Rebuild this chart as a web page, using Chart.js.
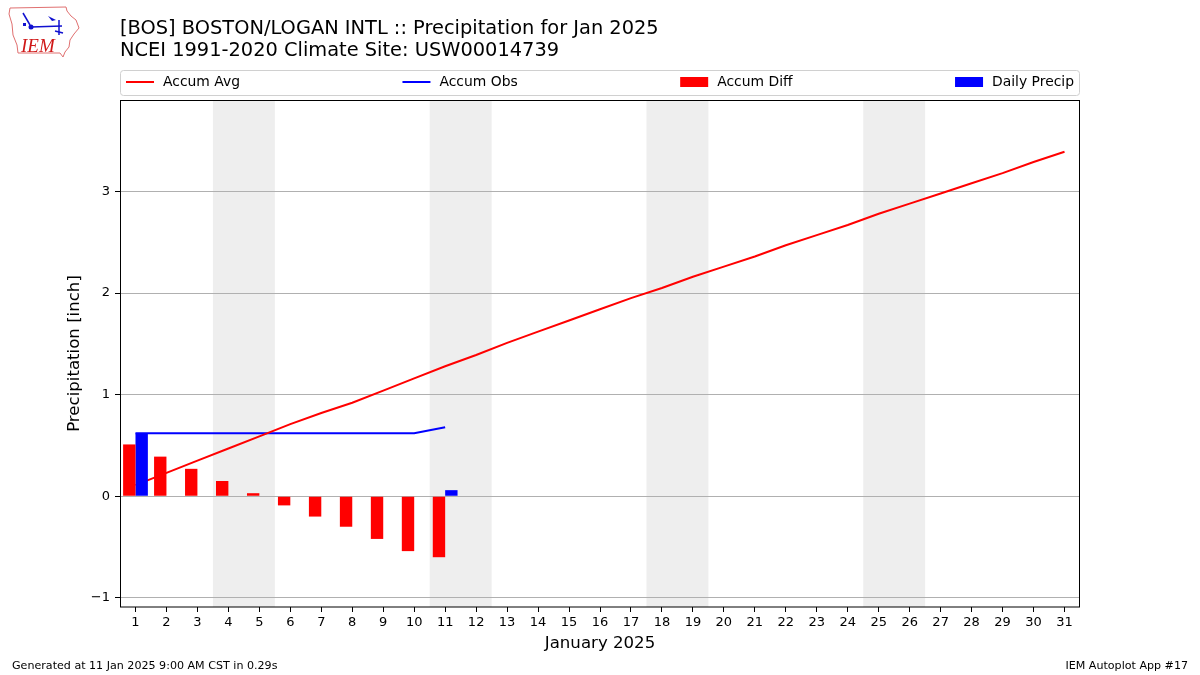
<!DOCTYPE html>
<html>
<head>
<meta charset="utf-8">
<script src="https://cdn.jsdelivr.net/npm/chart.js@4/dist/chart.umd.min.js"></script>
<style>
  html, body { margin: 0; padding: 0; background: #ffffff; }
  #wrap { width: 1200px; height: 675px; position: relative; }
</style>
</head>
<body>
<div id="wrap"><canvas id="c" width="1200" height="675"></canvas></div>
<script>
// ---- data ----
const dayLabels = ['1','2','3','4','5','6','7','8','9','10','11','12','13','14','15','16','17','18','19','20','21','22','23','24','25','26','27','28','29','30','31'];
const accumAvg = [0.11,0.23,0.35,0.47,0.59,0.71,0.82,0.92,1.04,1.16,1.28,1.39,1.51,1.62,1.73,1.84,1.95,2.05,2.16,2.26,2.36,2.47,2.57,2.67,2.78,2.88,2.98,3.08,3.18,3.29,3.39];
const accumObs = [0.62,0.62,0.62,0.62,0.62,0.62,0.62,0.62,0.62,0.62,0.68];
const accumDiff = [0.51,0.39,0.27,0.15,0.03,-0.09,-0.20,-0.30,-0.42,-0.54,-0.60];
const dailyPrecip = [0.62,0,0,0,0,0,0,0,0,0,0.06];
const yTicks = [-1,0,1,2,3];
const weekendDays = [4,5,11,12,18,19,25,26];
const titleLines = ['[BOS] BOSTON/LOGAN INTL :: Precipitation for Jan 2025','NCEI 1991-2020 Climate Site: USW00014739'];
const xTitle = 'January 2025';
const yTitle = 'Precipitation [inch]';
const footLeft = 'Generated at 11 Jan 2025 9:00 AM CST in 0.29s';
const footRight = 'IEM Autoplot App #17';
const legendItems = [
  {label:'Accum Avg', color:'#ff0000', kind:'line'},
  {label:'Accum Obs', color:'#0000ff', kind:'line'},
  {label:'Accum Diff', color:'#ff0000', kind:'box'},
  {label:'Daily Precip', color:'#0000ff', kind:'box'}
];

const FONT = "'DejaVu Sans', 'Liberation Sans', sans-serif";
Chart.defaults.font.family = FONT;
Chart.defaults.color = '#000';

const decorPlugin = {
  id: 'decor',
  beforeDraw(chart) {
    const ctx = chart.ctx, a = chart.chartArea, xs = chart.scales.x;
    ctx.save();
    ctx.fillStyle = '#fff';
    ctx.fillRect(0, 0, chart.width, chart.height);
    // weekend shading (consecutive day pairs)
    ctx.fillStyle = '#eeeeee';
    for (let i = 0; i < weekendDays.length; i += 2) {
      const x0 = xs.getPixelForValue(weekendDays[i] - 1 - 0.5);
      const x1 = xs.getPixelForValue(weekendDays[i + 1] - 1 + 0.5);
      ctx.fillRect(x0, a.top, x1 - x0, a.bottom - a.top);
    }
    ctx.restore();
  },
  afterDraw(chart) {
    const ctx = chart.ctx, a = chart.chartArea;
    ctx.save();
    // frame
    ctx.strokeStyle = '#000';
    ctx.lineWidth = 1;
    ctx.strokeRect(Math.round(a.left) + 0.5, Math.round(a.top) + 0.5, Math.round(a.right - a.left) - 1, Math.round(a.bottom - a.top) - 0.5);
    // titles
    ctx.fillStyle = '#000';
    ctx.textAlign = 'left';
    ctx.textBaseline = 'middle';
    ctx.font = '19.4px ' + FONT;
    ctx.fillText(titleLines[0], 120, 29);
    ctx.fillText(titleLines[1], 120, 51);
    // axis titles
    ctx.font = '16.6px ' + FONT;
    ctx.textAlign = 'center';
    ctx.fillText(xTitle, (a.left + a.right) / 2, 644);
    ctx.save();
    ctx.translate(75, (a.top + a.bottom) / 2);
    ctx.rotate(-Math.PI / 2);
    ctx.fillText(yTitle, 0, 0);
    ctx.restore();
    // footer
    ctx.font = '11.1px ' + FONT;
    ctx.textAlign = 'left';
    ctx.fillText(footLeft, 12, 666);
    ctx.textAlign = 'right';
    ctx.fillText(footRight, 1188, 666);
    // legend
    const lx = a.left, ly = 70, lw = a.right - a.left, lh = 25;
    ctx.fillStyle = 'rgba(255,255,255,0.8)';
    ctx.strokeStyle = '#d0d0d0';
    ctx.beginPath();
    ctx.roundRect(lx + 0.5, ly + 0.5, lw - 1, lh, 3);
    ctx.fill();
    ctx.stroke();
    ctx.font = '13.9px ' + FONT;
    const handle = 28, pad = 9;
    const widths = legendItems.map(it => handle + pad + ctx.measureText(it.label).width);
    const start = lx + 6, end = a.right - 6;
    const gap = (end - start - widths.reduce((s, w) => s + w, 0)) / (legendItems.length - 1);
    let x = start;
    const cy = ly + 12;
    legendItems.forEach((it, i) => {
      if (it.kind === 'line') {
        ctx.strokeStyle = it.color; ctx.lineWidth = 2;
        ctx.beginPath(); ctx.moveTo(x, cy); ctx.lineTo(x + handle, cy); ctx.stroke();
      } else {
        ctx.fillStyle = it.color;
        ctx.fillRect(x, cy - 5, handle, 10);
      }
      ctx.fillStyle = '#000';
      ctx.textAlign = 'left';
      ctx.textBaseline = 'middle';
      ctx.fillText(it.label, x + handle + pad, cy);
      x += widths[i] + gap;
    });
    // logo (simplified)
    ctx.strokeStyle = '#e07070';
    ctx.lineWidth = 1;
    ctx.beginPath();
    ctx.moveTo(10, 8); ctx.lineTo(66, 7); ctx.lineTo(67, 11); ctx.lineTo(71, 16);
    ctx.lineTo(76, 20); ctx.lineTo(79, 28); ctx.lineTo(74, 34); ctx.lineTo(70, 40);
    ctx.lineTo(69, 47); ctx.lineTo(65, 52); ctx.lineTo(63, 57); ctx.lineTo(60, 53);
    ctx.lineTo(18, 53); ctx.lineTo(17, 45); ctx.lineTo(13, 35); ctx.lineTo(12, 24);
    ctx.lineTo(9, 14); ctx.closePath(); ctx.stroke();
    ctx.strokeStyle = '#1010d0'; ctx.fillStyle = '#1010d0'; ctx.lineWidth = 1.5;
    ctx.beginPath(); ctx.moveTo(31, 27); ctx.lineTo(62, 26); ctx.stroke();
    ctx.beginPath(); ctx.arc(31, 27, 2.5, 0, Math.PI * 2); ctx.fill();
    ctx.beginPath(); ctx.moveTo(23, 13); ctx.lineTo(30, 25); ctx.stroke();
    ctx.beginPath(); ctx.moveTo(48, 16); ctx.lineTo(56, 20); ctx.lineTo(52, 21); ctx.closePath(); ctx.fill();
    ctx.beginPath(); ctx.moveTo(59, 20); ctx.lineTo(59, 35); ctx.stroke();
    ctx.beginPath(); ctx.moveTo(55, 31); ctx.lineTo(63, 33); ctx.stroke();
    ctx.fillRect(23, 23, 3, 3);
    ctx.fillStyle = '#d01818';
    ctx.font = 'italic 19px "Liberation Serif", "DejaVu Serif", serif';
    ctx.textAlign = 'left';
    ctx.textBaseline = 'alphabetic';
    ctx.fillText('IEM', 21, 52);
    ctx.restore();
  }
};

new Chart(document.getElementById('c'), {
  data: {
    labels: dayLabels,
    datasets: [
      { type: 'line', label: 'Accum Avg', data: accumAvg, borderColor: '#ff0000', borderWidth: 2, pointRadius: 0, tension: 0, order: 2 },
      { type: 'line', label: 'Accum Obs', data: accumObs, borderColor: '#0000ff', borderWidth: 2, pointRadius: 0, tension: 0, order: 2 },
      { type: 'bar', label: 'Accum Diff', data: accumDiff, backgroundColor: '#ff0000', borderWidth: 0, categoryPercentage: 0.8, barPercentage: 1.0, order: 1 },
      { type: 'bar', label: 'Daily Precip', data: dailyPrecip, backgroundColor: '#0000ff', borderWidth: 0, categoryPercentage: 0.8, barPercentage: 1.0, order: 1 }
    ]
  },
  options: {
    responsive: false,
    animation: false,
    layout: { padding: { top: 100, right: 120, left: 0, bottom: 0 } },
    plugins: { legend: { display: false }, title: { display: false }, tooltip: { enabled: false } },
    scales: {
      x: {
        type: 'category',
        offset: true,
        grid: { offset: false, drawOnChartArea: false, drawTicks: true, tickLength: 5, tickColor: '#000' },
        border: { display: false },
        ticks: { autoSkip: false, maxRotation: 0, minRotation: 0, padding: 3, font: { size: 13 }, color: '#000' },
        afterFit(s) { s.height = 68; }
      },
      y: {
        type: 'linear',
        min: -1.09,
        max: 3.9,
        grid: { color: '#b0b0b0', lineWidth: 1, drawTicks: true, tickLength: 5, tickColor: '#000' },
        border: { display: false },
        ticks: { padding: 5, font: { size: 13 }, color: '#000', callback: v => String(v).replace('-', '\u2212') },
        afterBuildTicks(s) { s.ticks = yTicks.map(v => ({ value: v })); },
        afterFit(s) { s.width = 120; }
      }
    }
  },
  plugins: [decorPlugin]
});
</script>
</body>
</html>
